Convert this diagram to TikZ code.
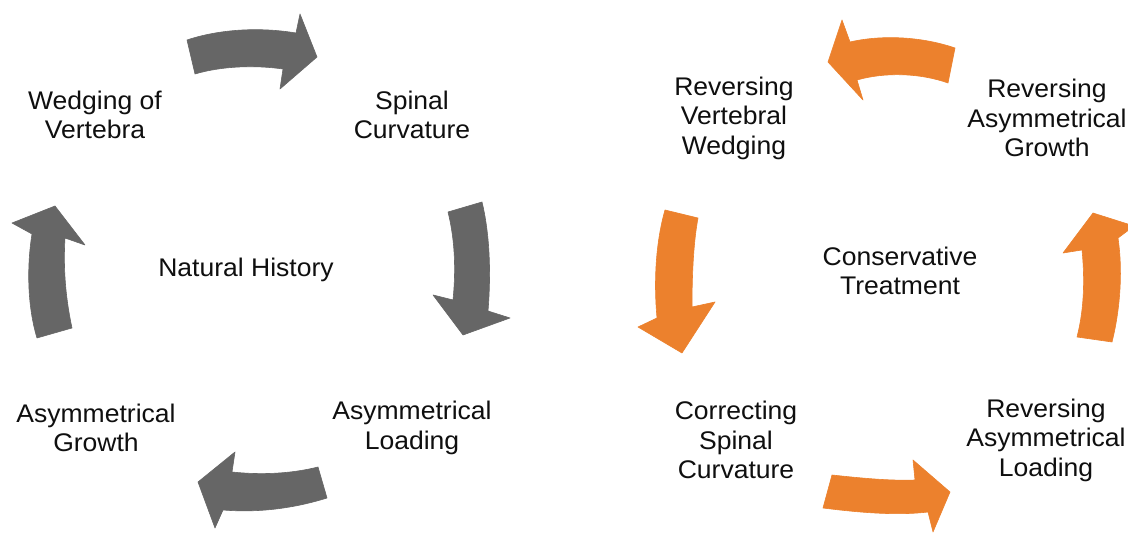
\documentclass[tikz,border=0pt]{standalone}
\usepackage{fontspec}
\setmainfont{Liberation Sans}[FakeStretch=1.04]
\definecolor{arrgray}{RGB}{102,102,102}
\definecolor{arrorange}{RGB}{236,129,45}
\definecolor{txt}{RGB}{15,15,15}
\tikzset{
  lbl/.style={align=center, text=txt, inner sep=0pt, font=\fontsize{25.5}{29.5}\selectfont},
  grayarrow/.style={fill=arrgray, draw=arrgray, line width=0.6pt, line join=round},
  orangearrow/.style={fill=arrorange, draw=arrorange, line width=0.6pt, line join=round}
}
\begin{document}
\begin{tikzpicture}[x=1pt,y=-1pt]
\useasboundingbox (0,0) rectangle (1128,534);
\clip (0,0) rectangle (1128,534);
\fill[white] (0,0) rectangle (1128,534);
% left cycle: Natural History
\node[lbl] (wedge) at (95,115) {Wedging of\\Vertebra};
\node[lbl] (spinal) at (412,115) {Spinal\\Curvature};
\node[lbl] (natural) at (246,270) {Natural History};
\node[lbl] (asymload) at (412,428) {Asymmetrical\\Loading};
\node[lbl] (asymgrowth) at (96,428) {Asymmetrical\\Growth};
% gray arrows
\path[grayarrow] (187,40) .. controls (220,29) and (260,27) .. (296,33) -- (300,14) -- (317,57) -- (280,89) -- (283,69) .. controls (255,65) and (222,66) .. (195,74) -- cycle;
\path[grayarrow] (482,202) .. controls (490,235) and (491,275) .. (488,311) -- (510,318) -- (463,335) -- (433,295) -- (453,300) .. controls (456,270) and (455,240) .. (448,212) -- cycle;
\path[grayarrow] (318,467) .. controls (290,474) and (260,475) .. (232,472) -- (235,452) -- (198,482) -- (215,528) -- (223,510) .. controls (260,513) and (295,508) .. (327,498) -- cycle;
\path[grayarrow] (37,338) .. controls (27,305) and (27,265) .. (32,234) -- (12,223) -- (55,206) -- (85,245) -- (65,238) .. controls (63,270) and (66,300) .. (72,328) -- cycle;
% right cycle: Conservative Treatment
\node[lbl] (revwedge) at (734,118) {Reversing\\Vertebral\\Wedging};
\node[lbl] (revgrowth) at (1047,118) {Reversing\\Asymmetrical\\Growth};
\node[lbl] (conserv) at (900,271) {Conservative\\Treatment};
\node[lbl] (correct) at (736,440) {Correcting\\Spinal\\Curvature};
\node[lbl] (revload) at (1046,440) {Reversing\\Asymmetrical\\Loading};
% orange arrows
\path[orangearrow] (955,48) .. controls (920,36) and (880,35) .. (850,42) -- (842,20) -- (828,62) -- (863,100) -- (857,80) .. controls (885,72) and (920,73) .. (948,83) -- cycle;
\path[orangearrow] (665,210) .. controls (655,245) and (654,285) .. (657,318) -- (638,327) -- (682,353) -- (715,302) -- (692,307) .. controls (692,280) and (693,245) .. (698,218) -- cycle;
\path[orangearrow] (832,475) .. controls (860,478) and (890,481) .. (915,480) -- (913,460) -- (950,492) -- (933,532) -- (928,512) .. controls (895,516) and (855,512) .. (823,508) -- cycle;
\path[orangearrow] (1077,337) .. controls (1084,310) and (1085,280) .. (1082,250) -- (1063,253) -- (1093,213) -- (1134,226) -- (1118,238) .. controls (1123,272) and (1120,310) .. (1112,342) -- cycle;
\end{tikzpicture}
\end{document}
